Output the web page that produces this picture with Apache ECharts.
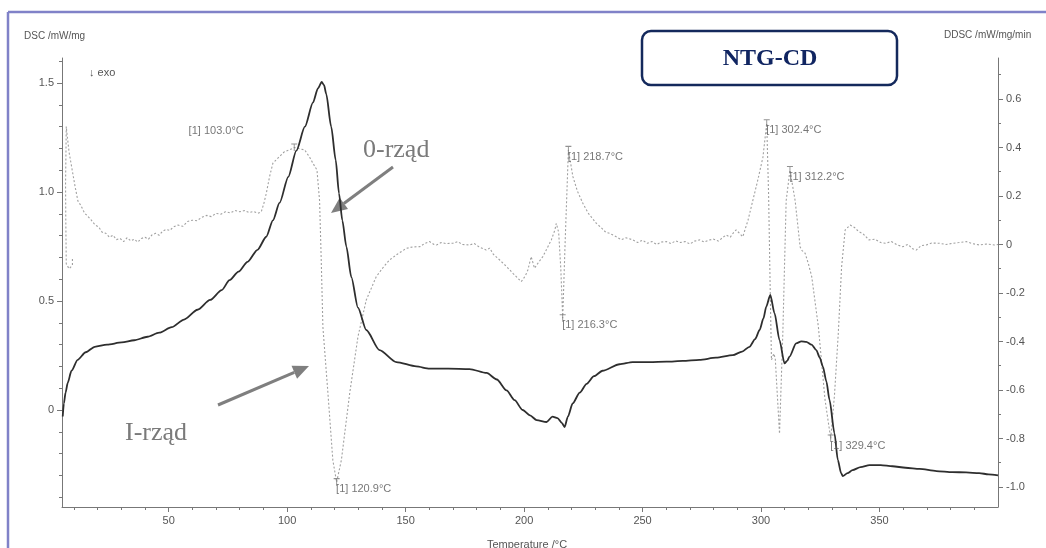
<!DOCTYPE html>
<html>
<head>
<meta charset="utf-8">
<style>
  html, body { margin: 0; padding: 0; background: #ffffff; }
  #chart { width: 1046px; height: 548px; }
</style>
<script src="https://cdn.jsdelivr.net/npm/echarts@6.0.0/dist/echarts.min.js"></script>
</head>
<body>
<div id="chart"></div>
<script>
// DSC heat flow /mW/mg against temperature /°C
const dscCurve = [
  [5.3,-0.03],[5.8,0.03],[6.5,0.08],[7.4,0.124],[9.0,0.18],[11.6,0.23],[15.0,0.265],[18.8,0.29],
  [24.0,0.30],[30.2,0.31],[35.5,0.32],[41.1,0.336],[46.0,0.355],[51.3,0.38],[56.5,0.415],[62.2,0.46],
  [67.5,0.505],[72.4,0.55],[75.7,0.596],[79.5,0.635],[83.3,0.68],[87.5,0.735],[91.2,0.795],[94.0,0.87],
  [96.8,0.95],[100.5,1.07],[103.9,1.19],[107.5,1.30],[110.9,1.41],[113.0,1.475],[114.6,1.505],[115.6,1.49],
  [116.5,1.45],[118.6,1.30],[120.5,1.147],[121.9,0.994],[123.3,0.87],[125.0,0.75],[127.1,0.61],[129.9,0.47],
  [133.4,0.367],[139.0,0.275],[146.1,0.22],[154.5,0.20],[160.1,0.19],[168.0,0.19],[177.0,0.188],[184.2,0.17],
  [188.5,0.14],[192.6,0.09],[196.0,0.045],[199.4,0.0],[202.5,-0.025],[205.3,-0.046],[209.5,-0.055],[212.0,-0.03],
  [214.1,-0.037],[216.0,-0.06],[217.1,-0.078],[218.5,-0.03],[220.5,0.03],[223.5,0.08],[226.4,0.12],[229.5,0.155],
  [233.1,0.18],[240.3,0.21],[245.8,0.22],[253.0,0.22],[260.1,0.222],[267.0,0.225],[274.0,0.23],[281.0,0.24],
  [288.1,0.252],[292.0,0.268],[295.1,0.29],[297.5,0.325],[299.4,0.367],[301.0,0.42],[302.2,0.474],[303.9,0.528],
  [305.7,0.444],[307.8,0.32],[309.9,0.214],[311.0,0.225],[312.0,0.245],[314.8,0.306],[317.0,0.315],[319.1,0.313],
  [321.3,0.30],[323.3,0.275],[324.8,0.24],[326.1,0.199],[327.6,0.13],[328.9,0.046],[331.0,-0.107],[332.4,-0.229],
  [333.8,-0.29],[334.5,-0.303],[336.5,-0.29],[338.6,-0.276],[342.0,-0.262],[345.8,-0.253],[350.5,-0.253],[355.5,-0.258],
  [361.0,-0.265],[366.9,-0.27],[374.0,-0.28],[380.8,-0.285],[386.5,-0.286],[392.1,-0.29],[396.0,-0.295],[400.0,-0.30]
];

// DDSC, first derivative of the DSC signal /mW/mg/min
const ddscCurve = [
  [9.4,-0.06],[9.4,-0.085],[8.0,-0.10],[6.8,-0.08],[6.6,0.10],[6.5,0.25],[6.8,0.486],[7.3,0.44],[8.0,0.38],
  [9.6,0.29],[10.5,0.24],[11.7,0.18],[13.0,0.16],[14.5,0.13],[16.0,0.115],[17.4,0.10],[19.0,0.08],[20.5,0.072],
  [22.0,0.05],[23.5,0.046],[25.0,0.03],[26.5,0.038],[28.0,0.02],[29.5,0.025],[31.0,0.012],[32.5,0.028],[34.0,0.015],
  [35.5,0.022],[37.0,0.01],[38.5,0.025],[40.0,0.03],[41.5,0.022],[43.0,0.04],[44.5,0.046],[46.0,0.038],[47.5,0.055],
  [49.0,0.062],[50.5,0.058],[52.0,0.072],[54.0,0.08],[56.0,0.075],[58.0,0.095],[60.0,0.10],[62.0,0.098],[64.0,0.112],
  [66.0,0.12],[68.0,0.115],[70.0,0.128],[72.0,0.125],[74.0,0.135],[76.0,0.13],[78.0,0.14],[80.0,0.135],[82.0,0.14],
  [84.0,0.132],[86.0,0.136],[87.7,0.129],[89.1,0.135],[90.2,0.17],[91.2,0.21],[92.6,0.28],[94.0,0.335],[96.5,0.36],
  [98.9,0.383],[101.0,0.39],[103.0,0.40],[105.2,0.395],[107.4,0.39],[109.5,0.36],[110.9,0.335],[112.6,0.307],
  [113.7,0.18],[114.4,-0.064],[115.1,-0.34],[117.2,-0.61],[119.3,-0.89],[120.9,-0.98],[122.9,-0.889],[126.4,-0.614],
  [129.9,-0.38],[133.4,-0.229],[137.6,-0.133],[140.5,-0.095],[143.2,-0.064],[146.5,-0.04],[150.3,-0.016],[153.0,-0.01],
  [156.1,-0.009],[158.0,0.004],[160.1,0.012],[162.0,0.0],[163.0,-0.002],[165.0,0.008],[167.0,0.004],[170.0,0.005],
  [172.0,0.012],[174.0,0.0],[177.0,-0.002],[179.0,0.004],[181.0,-0.01],[184.0,-0.023],[185.5,-0.015],[187.0,-0.04],
  [189.7,-0.064],[192.5,-0.09],[195.3,-0.119],[198.8,-0.153],[200.5,-0.13],[201.6,-0.105],[203.0,-0.05],[204.4,-0.098],
  [206.0,-0.075],[207.9,-0.05],[209.5,-0.02],[211.5,0.019],[213.0,0.06],[213.6,0.087],[214.6,0.05],[215.5,-0.10],
  [216.3,-0.304],[217.3,0.0],[218.7,0.39],[220.6,0.28],[222.5,0.22],[224.8,0.17],[227.0,0.13],[230.5,0.087],
  [232.5,0.07],[234.5,0.05],[236.1,0.046],[238.9,0.032],[241.0,0.02],[243.0,0.028],[245.9,0.019],[248.0,0.008],
  [250.0,0.018],[252.0,0.005],[254.0,0.012],[256.0,0.0],[258.0,0.01],[260.0,0.012],[262.0,0.004],[264.0,0.015],
  [266.0,0.008],[268.0,0.012],[270.0,0.002],[272.0,0.014],[274.1,0.019],[276.0,0.01],[278.0,0.018],[280.0,0.022],
  [282.0,0.014],[284.0,0.03],[285.3,0.039],[287.0,0.03],[288.5,0.05],[289.5,0.06],[291.0,0.045],[292.3,0.032],
  [294.5,0.10],[296.5,0.18],[298.5,0.26],[300.8,0.36],[302.4,0.50],[303.2,0.20],[303.8,-0.15],[304.4,-0.476],
  [305.4,-0.45],[306.0,-0.47],[307.8,-0.78],[309.2,-0.365],[310.6,0.18],[312.2,0.307],[314.4,0.18],[316.5,-0.01],
  [317.3,-0.025],[318.6,-0.036],[320.0,-0.08],[321.4,-0.133],[324.2,-0.34],[327.0,-0.64],[329.4,-0.80],[331.0,-0.62],
  [332.6,-0.366],[334.0,-0.092],[335.5,0.06],[337.6,0.08],[339.5,0.07],[341.2,0.053],[343.0,0.045],[345.5,0.019],
  [348.0,0.022],[350.5,0.008],[352.5,0.005],[355.0,0.012],[357.5,-0.002],[359.8,-0.009],[362.0,0.0],[364.0,-0.018],
  [365.5,-0.023],[367.5,-0.005],[369.7,-0.002],[372.0,0.006],[375.3,0.005],[378.0,0.0],[380.9,0.005],[383.5,0.008],
  [386.6,0.012],[389.0,0.004],[392.2,-0.002],[395.0,0.002],[398.5,-0.002],[400.0,0.0]
];

// evaluated extrema of the DDSC curve: [temperature, DDSC value]
const ddscPeaks = [
  [103.0,0.40],[120.9,-0.98],[216.3,-0.304],[218.7,0.39],[302.4,0.50],[312.2,0.307],[329.4,-0.80]
];
// the 103.0 °C label sits up and to the left of its point
const leftPlacedPeaks = [103.0];

// axis tick labels
const tempTicks = [50,100,150,200,250,300,350];
const dscTicks = [0,0.5,1.0,1.5];
const ddscTicks = [-1.0,-0.8,-0.6,-0.4,-0.2,0,0.2,0.4,0.6];

const FONT = "'Liberation Sans', Arial, sans-serif";
const SERIF = "'Liberation Serif', 'Times New Roman', serif";
const AXIS_GRAY = '#777777';
const TEXT_GRAY = '#555555';

function range(from, to, step) {
  const out = [];
  for (let i = 0; from + i * step <= to + 1e-9; i++) out.push(Math.round((from + i * step) * 1000) / 1000);
  return out;
}
const tempMinor = range(10, 400, 10).filter(v => v % 50 !== 0);
const dscMinor = range(-0.4, 1.6, 0.1).filter(v => Math.abs(v * 2 - Math.round(v * 2)) > 1e-6);
const ddscMinor = range(-0.9, 0.7, 0.2);

const fmtOne = v => (Math.abs(v) < 1e-9 ? '0' : v.toFixed(1));
const fmtInt = v => String(Math.round(v));

function majorAxis(position, min, max, ticks, formatter) {
  return {
    type: 'value', position, min, max,
    axisLine: { show: true, onZero: false, lineStyle: { color: AXIS_GRAY, width: 1 } },
    axisTick: { show: true, customValues: ticks, length: 5, lineStyle: { color: AXIS_GRAY } },
    axisLabel: { customValues: ticks, formatter, color: TEXT_GRAY, fontSize: 11, fontFamily: FONT, margin: 8 },
    splitLine: { show: false }
  };
}
function minorAxis(position, min, max, ticks) {
  return {
    type: 'value', position, min, max,
    axisLine: { show: false, onZero: false },
    axisTick: { show: true, customValues: ticks, length: 3, lineStyle: { color: AXIS_GRAY } },
    axisLabel: { show: false },
    splitLine: { show: false }
  };
}

// arrow from tail to tip, for the reaction-order notes
function arrow(x1, y1, x2, y2) {
  const dx = x2 - x1, dy = y2 - y1, len = Math.hypot(dx, dy);
  const ux = dx / len, uy = dy / len, head = 16, half = 7;
  const bx = x2 - ux * head, by = y2 - uy * head;
  const nx = -uy, ny = ux;
  return [
    { type: 'line', shape: { x1, y1, x2: bx, y2: by }, style: { stroke: '#7f7f7f', lineWidth: 3 } },
    { type: 'polygon', shape: { points: [[x2, y2], [bx + nx * half, by + ny * half], [bx - nx * half, by - ny * half]] },
      style: { fill: '#7f7f7f' } }
  ];
}

const peakData = ddscPeaks.map(p => {
  const item = { value: p };
  if (leftPlacedPeaks.includes(p[0])) item.label = { position: 'left', offset: [-47, -17] };
  return item;
});

const chart = echarts.init(document.getElementById('chart'), null, { renderer: 'canvas' });
chart.setOption({
  animation: false,
  backgroundColor: '#ffffff',
  grid: { left: 62, right: 48, top: 58, bottom: 41 },
  xAxis: [
    majorAxis('bottom', 5, 400, tempTicks, fmtInt),
    minorAxis('bottom', 5, 400, tempMinor)
  ],
  yAxis: [
    majorAxis('left', -0.445, 1.615, dscTicks, fmtOne),
    minorAxis('left', -0.445, 1.615, dscMinor),
    majorAxis('right', -1.0825, 0.769, ddscTicks, fmtOne),
    minorAxis('right', -1.0825, 0.769, ddscMinor)
  ],
  series: [
    {
      name: 'DDSC', type: 'line', xAxisIndex: 0, yAxisIndex: 2, data: ddscCurve,
      showSymbol: false, z: 2,
      lineStyle: { color: '#a0a0a0', width: 1.1, type: [2, 2] }
    },
    {
      name: 'DSC', type: 'line', xAxisIndex: 0, yAxisIndex: 0, data: dscCurve,
      showSymbol: false, smooth: 0.25, smoothMonotone: 'x', z: 3,
      lineStyle: { color: '#2e2e2e', width: 1.8 }
    },
    {
      name: 'DDSC peaks', type: 'scatter', xAxisIndex: 0, yAxisIndex: 2, data: peakData, z: 4,
      symbol: 'path://M0,0L8,0M4,0L4,8', symbolSize: [6, 7],
      itemStyle: { color: 'rgba(0,0,0,0)', borderColor: '#777777', borderWidth: 1 },
      label: {
        show: true, position: 'right', distance: 0, offset: [-4, 7],
        formatter: p => '[1] ' + p.value[0].toFixed(1) + '°C',
        color: TEXT_GRAY, fontSize: 11, fontFamily: FONT
      }
    }
  ],
  graphic: [
    // outer frame
    { type: 'line', shape: { x1: 8, y1: 12, x2: 1046, y2: 12 }, style: { stroke: '#8082c8', lineWidth: 2.5 } },
    { type: 'line', shape: { x1: 8, y1: 12, x2: 8, y2: 548 }, style: { stroke: '#8082c8', lineWidth: 2.5 } },
    // axis titles
    { type: 'text', style: { x: 24, y: 36, text: 'DSC /mW/mg', fill: TEXT_GRAY, font: '10px ' + FONT, textVerticalAlign: 'middle' } },
    { type: 'text', style: { x: 944, y: 35, text: 'DDSC /mW/mg/min', fill: TEXT_GRAY, font: '10px ' + FONT, textVerticalAlign: 'middle' } },
    { type: 'text', style: { x: 527, y: 545, text: 'Temperature /°C', fill: TEXT_GRAY, font: '11px ' + FONT, textAlign: 'center', textVerticalAlign: 'middle' } },
    { type: 'text', style: { x: 89, y: 73, text: '↓ exo', fill: TEXT_GRAY, font: '11px ' + FONT, textVerticalAlign: 'middle' } },
    // sample name box
    { type: 'rect', shape: { x: 642, y: 31, width: 255, height: 54, r: 9 }, style: { fill: '#ffffff', stroke: '#14295c', lineWidth: 2.5 } },
    { type: 'text', style: { x: 770, y: 59, text: 'NTG-CD', fill: '#102561', font: 'bold 24px ' + SERIF, textAlign: 'center', textVerticalAlign: 'middle' } },
    // reaction-order notes
    { type: 'text', style: { x: 363, y: 150, text: '0-rząd', fill: '#7a7a7a', font: '26px ' + SERIF, textVerticalAlign: 'middle' } },
    { type: 'text', style: { x: 125, y: 433, text: 'I-rząd', fill: '#7a7a7a', font: '26px ' + SERIF, textVerticalAlign: 'middle' } },
    ...arrow(393, 167, 331, 213),
    ...arrow(218, 405, 309, 366)
  ]
});
</script>
</body>
</html>
